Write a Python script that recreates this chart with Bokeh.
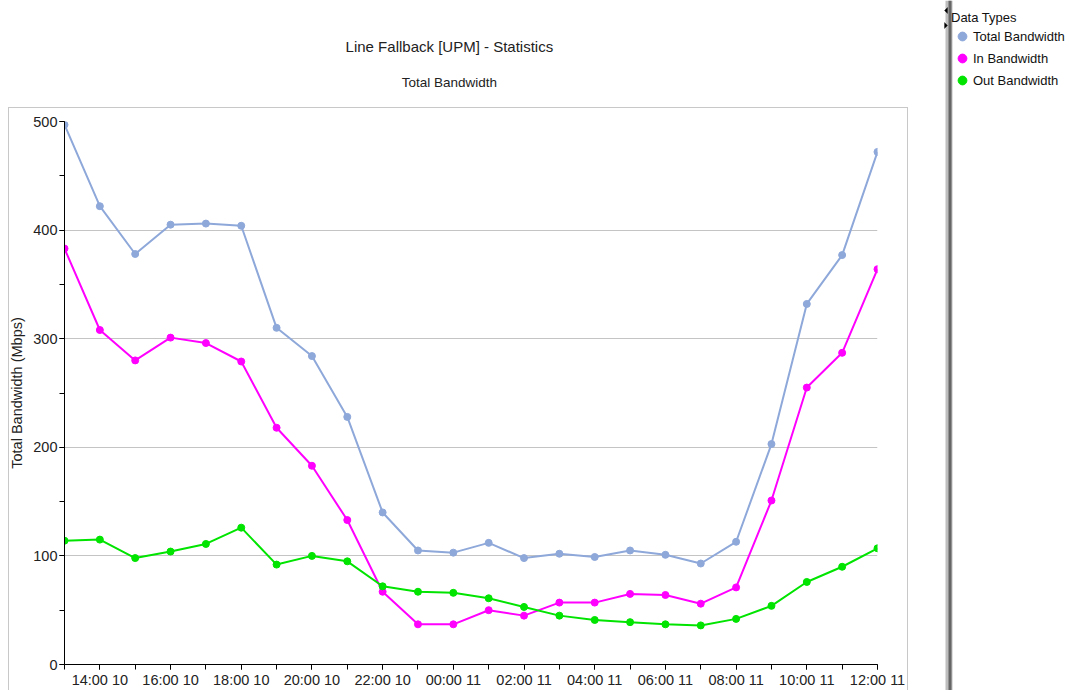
from bokeh.plotting import figure
from bokeh.layouts import row, column
from bokeh.models import (Range1d, FixedTicker, SingleIntervalTicker, Legend, LegendItem,
                          ColumnDataSource, Label, BoxAnnotation, PolyAnnotation)
from bokeh.embed import file_html
from bokeh.resources import INLINE

# ---------------- data ----------------
times = ["13:00 10", "14:00 10", "15:00 10", "16:00 10", "17:00 10", "18:00 10",
         "19:00 10", "20:00 10", "21:00 10", "22:00 10", "23:00 10", "00:00 11",
         "01:00 11", "02:00 11", "03:00 11", "04:00 11", "05:00 11", "06:00 11",
         "07:00 11", "08:00 11", "09:00 11", "10:00 11", "11:00 11", "12:00 11"]
total_bw = [497, 422, 378, 405, 406, 404, 310, 284, 228, 140, 105, 103,
            112, 98, 102, 99, 105, 101, 93, 113, 203, 332, 377, 472]
in_bw = [383, 308, 280, 301, 296, 279, 218, 183, 133, 67, 37, 37,
         50, 45, 57, 57, 65, 64, 56, 71, 151, 255, 287, 364]
out_bw = [114, 115, 98, 104, 111, 126, 92, 100, 95, 72, 67, 66,
          61, 53, 45, 41, 39, 37, 36, 42, 54, 76, 90, 107]
series_names = ["Total Bandwidth", "In Bandwidth", "Out Bandwidth"]
series_colors = ["#8EA8DA", "#FF00FF", "#00E400"]
title_text = "Line Fallback [UPM] - Statistics"
subtitle_text = "Total Bandwidth"
y_label = "Total Bandwidth (Mbps)"
legend_title = "Data Types"
y_max = 500

FONT = "Liberation Sans"
LEFT_W, RIGHT_W, TOTAL_H = 940, 129, 690
TITLE_H = 107


def bare(width, height, xr, yr):
    f = figure(width=width, height=height, output_backend="svg", toolbar_location=None,
               x_range=Range1d(*xr), y_range=Range1d(*yr), x_axis_type=None,
               y_axis_type=None, min_border=0, outline_line_color=None,
               background_fill_color="white", border_fill_color="white")
    f.grid.visible = False
    return f


# ---------------- title area ----------------
tf = bare(LEFT_W, TITLE_H, (0, LEFT_W), (0, TITLE_H))
tf.add_layout(Label(x=445, y=TITLE_H - 46, text=title_text, text_font=FONT,
                    text_font_size="15px", text_color="#222222",
                    text_align="center", text_baseline="middle"))
tf.add_layout(Label(x=445, y=TITLE_H - 82, text=subtitle_text, text_font=FONT,
                    text_font_size="13.5px", text_color="#222222",
                    text_align="center", text_baseline="middle"))

# ---------------- main chart ----------------
grey = "linear-gradient(#C8C8C8,#C8C8C8)"
box_css = {
    "background-color": "white",
    "background-image": ", ".join([grey, grey, grey]),
    "background-size": "900px 1px, 1px 600px, 1px 600px",
    "background-position": "8px 0px, 8px 0px, 907px 0px",
    "background-repeat": "no-repeat",
}

x = list(range(len(times)))
source = ColumnDataSource(dict(x=x, total=total_bw, inb=in_bw, outb=out_bw))

p = figure(width=LEFT_W, height=TOTAL_H - TITLE_H, output_backend="svg",
           toolbar_location=None,
           x_range=Range1d(0, len(times) - 1), y_range=Range1d(0, y_max),
           min_border_left=64, min_border_right=63, min_border_top=14,
           min_border_bottom=25, background_fill_color="white",
           border_fill_alpha=0, outline_line_color=None, styles=box_css)

p.xaxis.ticker = FixedTicker(ticks=[i for i in x if i % 2 == 1], minor_ticks=x)
p.xaxis.major_label_overrides = {i: times[i] for i in x if i % 2 == 1}
p.yaxis.ticker = SingleIntervalTicker(interval=100, num_minor_ticks=2)
for ax in (p.xaxis[0], p.yaxis[0]):
    ax.axis_line_color = "black"
    ax.major_tick_line_color = "black"
    ax.minor_tick_line_color = "black"
    ax.major_tick_in = 0
    ax.minor_tick_in = 0
    ax.major_tick_out = 5
    ax.minor_tick_out = 5
    ax.major_label_text_font = FONT
    ax.major_label_text_font_size = "14.5px"
    ax.major_label_text_color = "#222222"
    ax.major_label_standoff = 2
p.yaxis.axis_label = y_label
p.yaxis.axis_label_text_font = FONT
p.yaxis.axis_label_text_font_size = "14.5px"
p.yaxis.axis_label_text_font_style = "normal"
p.yaxis.axis_label_text_color = "#222222"
p.yaxis.axis_label_standoff = 5

p.xgrid.grid_line_color = None
p.ygrid.grid_line_color = "#C4C4C4"
p.ygrid.grid_line_width = 1

cols = ["total", "inb", "outb"]
for col, color in zip(cols, series_colors):
    p.line("x", col, source=source, line_color=color, line_width=2)
    p.scatter("x", col, source=source, size=7, fill_color=color,
              line_color=color, marker="circle")

# ---------------- legend panel with splitter bar ----------------
lf = bare(RIGHT_W, TOTAL_H, (0, RIGHT_W), (0, TOTAL_H))
lf.add_layout(BoxAnnotation(left=5, right=12, bottom=0, top=TOTAL_H,
                            fill_color="#BEBEBE", fill_alpha=1, line_color=None))
lf.add_layout(BoxAnnotation(left=8, right=11, bottom=0, top=TOTAL_H,
                            fill_color="#666666", fill_alpha=1, line_color=None))
lf.add_layout(PolyAnnotation(xs=[7, 7, 4], ys=[TOTAL_H - 7, TOTAL_H - 13, TOTAL_H - 10],
                             fill_color="black", fill_alpha=1, line_color="black"))
lf.add_layout(PolyAnnotation(xs=[4, 4, 7], ys=[TOTAL_H - 22, TOTAL_H - 28, TOTAL_H - 25],
                             fill_color="black", fill_alpha=1, line_color="black"))
# legend key renderers: one point each, placed outside the visible range
key_src = ColumnDataSource(dict(x=[-100], y=[-100]))
key_renderers = [lf.scatter("x", "y", source=key_src, size=13, fill_color=c,
                            line_color=c, marker="circle") for c in series_colors]
legend = Legend(items=[LegendItem(label=n, renderers=[r])
                       for n, r in zip(series_names, key_renderers)],
                title=legend_title, title_text_font=FONT, title_text_font_size="13px",
                title_text_font_style="normal", title_text_color="#111111",
                title_standoff=0, location=(11, TOTAL_H - 10 - 81),
                orientation="vertical",
                glyph_width=22, glyph_height=22, spacing=0, label_standoff=0,
                padding=0, margin=0, border_line_color=None,
                background_fill_alpha=0, label_text_font=FONT,
                label_text_font_size="13px", label_text_color="#111111")
lf.add_layout(legend, "center")

layout = row(column(tf, p), lf)
open("out.html", "w").write(file_html(layout, INLINE))
